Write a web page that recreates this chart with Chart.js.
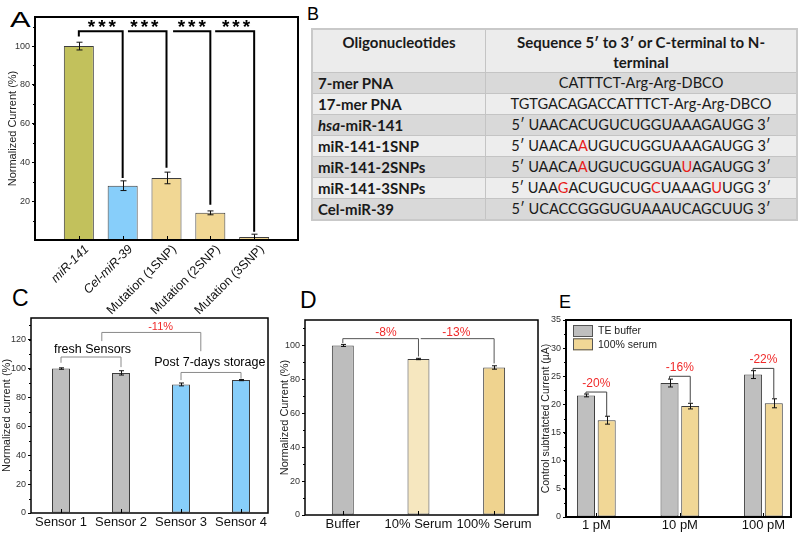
<!DOCTYPE html>
<html>
<head>
<meta charset="utf-8">
<script src="https://cdn.jsdelivr.net/npm/chart.js@4.4.0/dist/chart.umd.min.js"></script>
<style>
body { margin: 0; width: 800px; height: 535px; position: relative; overflow: hidden; background: #fff; font-family: "Liberation Sans", Arial, sans-serif; }
canvas { position: absolute; }
.letter { position: absolute; line-height: 1; color: #000; }
#oligo { position: absolute; left: 311px; top: 28px; width: 487px; border-collapse: collapse; font-family: Lato, "Noto Sans", sans-serif; font-size: 15px; color: #1a1a1a; border: 2px solid #c9c9c9; }
#oligo th { height: 40px; background: #ececec; vertical-align: top; line-height: 20px; padding: 2px 4px 0; border: 1px solid #c4c4c4; }
#oligo td { height: 20px; line-height: 20px; padding: 0 5px; border: 1px solid #c4c4c4; }
#oligo th:first-child, #oligo td:first-child { width: 162px; }
#oligo td:first-child { font-weight: bold; text-align: left; }
#oligo td:last-child { text-align: center; font-size: 14.6px; }
#oligo tr:nth-child(even) td { background: #d9d9d9; }
#oligo tr:nth-child(odd) td { background: #ededed; }
.m { color: #e8201b; }
</style>
</head>
<body>
<div class="letter" style="left:10px;top:9px;font-size:22px;transform:scaleX(1.4);transform-origin:left">A</div>
<div class="letter" style="left:307px;top:5px;font-size:18px">B</div>
<div class="letter" style="left:12px;top:287px;font-size:23px">C</div>
<div class="letter" style="left:300px;top:289px;font-size:23px">D</div>
<div class="letter" style="left:559px;top:293px;font-size:18px">E</div>

<table id="oligo">
  <tr><th>Oligonucleotides</th><th>Sequence 5′ to 3′ or C-terminal to N-<br>terminal</th></tr>
  <tr><td>7-mer PNA</td><td>CATTTCT-Arg-Arg-DBCO</td></tr>
  <tr><td>17-mer PNA</td><td>TGTGACAGACCATTTCT-Arg-Arg-DBCO</td></tr>
  <tr><td><i>hsa</i>-miR-141</td><td>5′ UAACACUGUCUGGUAAAGAUGG 3′</td></tr>
  <tr><td>miR-141-1SNP</td><td>5′ UAACA<span class="m">A</span>UGUCUGGUAAAGAUGG 3′</td></tr>
  <tr><td>miR-141-2SNPs</td><td>5′ UAACA<span class="m">A</span>UGUCUGGUA<span class="m">U</span>AGAUGG 3′</td></tr>
  <tr><td>miR-141-3SNPs</td><td>5′ UAA<span class="m">G</span>ACUGUCUG<span class="m">C</span>UAAAG<span class="m">U</span>UGG 3′</td></tr>
  <tr><td>Cel-miR-39</td><td>5′ UCACCGGGUGUAAAUCAGCUUG 3′</td></tr>
</table>

<canvas id="chartA" width="300" height="315" style="left:0;top:0"></canvas>
<canvas id="chartC" width="272" height="245" style="left:0;top:290px"></canvas>
<canvas id="chartD" width="268" height="245" style="left:272px;top:290px"></canvas>
<canvas id="chartE" width="260" height="245" style="left:540px;top:290px"></canvas>

<script>
// ===== DATA =====
// A: selectivity
const selCategories = ['miR-141', 'Cel-miR-39', 'Mutation (1SNP)', 'Mutation (2SNP)', 'Mutation (3SNP)'];
const selValues = [100, 28, 32, 14, 1.5];
const selErrors = [2, 2.5, 3, 1, 1.5];

// C: storage stability
const stabCategories = ['Sensor 1', 'Sensor 2', 'Sensor 3', 'Sensor 4'];
const stabValues = [100, 97, 89, 92];
const stabErrors = [0.5, 1.5, 1, 0.4];

// D: serum matrix
const serumCategories = ['Buffer', '10% Serum', '100% Serum'];
const serumValues = [100, 92, 87];
const serumErrors = [0.6, 0.4, 1];

// E: concentrations in buffer vs serum
const concCategories = ['1 pM', '10 pM', '100 pM'];
const teValues = [21.6, 23.8, 25.3];
const teErrors = [0.25, 0.7, 0.7];
const serum100Values = [17.2, 19.7, 20.2];
const serum100Errors = [0.7, 0.5, 0.8];

const RED = '#f02a2a';
Chart.defaults.font.family = '"Liberation Sans", Arial, sans-serif';
Chart.defaults.color = '#222';

// ===== DECOR PLUGIN (frame, error bars, brackets, labels) =====
const decorPlugin = {
    id: 'decor',
    afterDatasetsDraw(chart, args, opts) {
        const { ctx, chartArea: a, scales: { x, y } } = chart;
        const px = v => {
            if (!Array.isArray(v)) return x.getPixelForValue(v);
            const p1 = chart.getDatasetMeta(v[0]).data[v[1]].x;
            if (v.length === 2) return p1;
            return (p1 + chart.getDatasetMeta(v[2]).data[v[3]].x) / 2;
        };
        const py = v => y.getPixelForValue(v);
        ctx.save();

        // error bars
        ctx.strokeStyle = '#111';
        ctx.lineWidth = 1;
        chart.data.datasets.forEach((ds, di) => {
            chart.getDatasetMeta(di).data.forEach((bar, i) => {
                const v = ds.data[i].y, e = ds.errors[i];
                const xx = Math.round(bar.x) + 0.5;
                const t = py(v + e), b = py(v - e), c = opts.cap || 3;
                ctx.beginPath();
                ctx.moveTo(xx, t); ctx.lineTo(xx, b);
                ctx.moveTo(xx - c, t); ctx.lineTo(xx + c, t);
                ctx.moveTo(xx - c, b); ctx.lineTo(xx + c, b);
                ctx.stroke();
            });
        });

        // brackets
        (opts.brackets || []).forEach(br => {
            ctx.strokeStyle = br.color || '#000';
            ctx.lineWidth = br.width || 1;
            const x1 = px(br.x1), x2 = px(br.x2), yy = py(br.y);
            ctx.beginPath();
            if (br.y1 != null) { ctx.moveTo(x1, py(br.y1)); ctx.lineTo(x1, yy); }
            else ctx.moveTo(x1, yy);
            ctx.lineTo(x2, yy);
            ctx.lineTo(x2, py(br.y2));
            ctx.stroke();
        });

        // texts
        (opts.texts || []).forEach(t => {
            ctx.fillStyle = t.color || '#000';
            ctx.font = (t.bold ? 'bold ' : '') + t.size + 'px "Liberation Sans", Arial, sans-serif';
            ctx.textAlign = 'center';
            ctx.textBaseline = 'middle';
            ctx.letterSpacing = t.spacing || '0px';
            ctx.fillText(t.text, px(t.x), py(t.y));
            ctx.letterSpacing = '0px';
        });

        // legend (E)
        if (opts.legend) {
            chart.data.datasets.forEach((ds, i) => {
                const lx = a.left + 7, ly = a.top + 5 + i * 13.3;
                ctx.fillStyle = ds.backgroundColor;
                ctx.fillRect(lx, ly, 20, 12);
                ctx.strokeStyle = '#555';
                ctx.lineWidth = 1;
                ctx.strokeRect(lx + 0.5, ly + 0.5, 19, 11);
                ctx.fillStyle = '#222';
                ctx.font = '10.5px "Liberation Sans", Arial, sans-serif';
                ctx.textAlign = 'left';
                ctx.textBaseline = 'middle';
                ctx.fillText(ds.label, lx + 25, ly + 6.5);
            });
        }

        // inward x ticks and minor y ticks
        ctx.strokeStyle = '#000';
        ctx.lineWidth = 1;
        ctx.beginPath();
        x.ticks.forEach(t => {
            const xx = Math.round(x.getPixelForValue(t.value)) + 0.5;
            ctx.moveTo(xx, a.bottom); ctx.lineTo(xx, a.bottom - 4);
        });
        for (let v = opts.minor; v < y.max; v += opts.minor) {
            const yy = Math.round(py(v)) + 0.5;
            ctx.moveTo(a.left, yy); ctx.lineTo(a.left - 2, yy);
        }
        ctx.stroke();

        // frame
        ctx.strokeStyle = '#000';
        ctx.lineWidth = opts.frame || 1.5;
        ctx.strokeRect(a.left, a.top, a.width, a.height);
        ctx.restore();
    }
};

function buildChart(id, cfg) {
    return new Chart(document.getElementById(id), {
        type: 'bar',
        data: {
            datasets: cfg.datasets.map(d => ({
                label: d.label,
                data: d.values.map((v, i) => ({ x: i + 1, y: v })),
                errors: d.errors,
                backgroundColor: d.color,
                borderColor: '#3d3d3d',
                borderWidth: 1,
                borderSkipped: false,
                categoryPercentage: cfg.catPct,
                barPercentage: cfg.barPct
            }))
        },
        options: {
            responsive: false,
            animation: false,
            layout: { padding: cfg.pad },
            plugins: { legend: { display: false }, tooltip: { enabled: false }, decor: cfg.decor },
            scales: {
                x: {
                    type: 'linear', min: cfg.xMin, max: cfg.xMax, offset: false,
                    afterBuildTicks: s => { s.ticks = cfg.cats.map((c, i) => ({ value: i + 1 })); },
                    afterFit: s => { s.height = cfg.xH; },
                    grid: { display: true, drawOnChartArea: false, drawTicks: false, offset: false },
                    border: { display: false },
                    ticks: {
                        autoSkip: false, maxRotation: cfg.rot, minRotation: cfg.rot, padding: cfg.xPad,
                        labelOffset: cfg.xShift || 0,
                        color: '#111', font: cfg.xFont,
                        callback: v => cfg.cats[v - 1]
                    }
                },
                y: {
                    min: 0, max: cfg.yMax,
                    afterBuildTicks: s => {
                        s.ticks = s.ticks.filter(t => t.value % cfg.yStep === 0 && t.value >= cfg.yTickMin && t.value <= cfg.yTickMax);
                    },
                    afterFit: s => { s.width = cfg.yW; },
                    grid: { drawOnChartArea: false, drawTicks: true, tickLength: 3, color: '#000', tickColor: '#000' },
                    border: { display: false },
                    ticks: { stepSize: cfg.yStep, padding: 2, color: '#333', font: { size: 9 } },
                    title: { display: true, text: cfg.yTitle, color: '#222', font: { size: cfg.titleSize }, padding: { top: cfg.titlePad, bottom: 0 } }
                }
            }
        },
        plugins: [decorPlugin]
    });
}

// ===== PANEL A =====
buildChart('chartA', {
    cats: selCategories,
    datasets: [{ label: 'Normalized Current', values: selValues, errors: selErrors,
        color: ['#c2c15c', '#87cefa', '#f1d794', '#f1d794', '#f1d794'] }],
    xMin: 0, xMax: 6, yMax: 115, yStep: 20, yTickMin: 20, yTickMax: 100,
    yW: 35, xH: 75, pad: { top: 17, right: 2 }, xPad: 2, xShift: 8,
    catPct: 1, barPct: 0.685, rot: 45,
    xFont: c => ({ size: 12.5, style: c.index < 2 ? 'italic' : 'normal' }),
    yTitle: 'Normalized Current (%)', titleSize: 11, titlePad: 6.5,
    decor: {
        frame: 2, cap: 3, minor: 10,
        brackets: [
            { x1: 1, x2: 2, y: 107.6, y1: 105, y2: 32, width: 2 },
            { x1: 2.12, x2: 3, y: 107.6, y1: null, y2: 37.3, width: 2 },
            { x1: 3.15, x2: 4, y: 107.6, y1: null, y2: 18.2, width: 2 },
            { x1: 4.11, x2: 5, y: 107.6, y1: null, y2: 4.3, width: 2 }
        ],
        texts: [
            { x: 1.56, y: 109.2, text: '***', size: 19, bold: true, spacing: '3px' },
            { x: 2.53, y: 109.2, text: '***', size: 19, bold: true, spacing: '3px' },
            { x: 3.61, y: 109.2, text: '***', size: 19, bold: true, spacing: '3px' },
            { x: 4.62, y: 109.2, text: '***', size: 19, bold: true, spacing: '3px' }
        ]
    }
});

// ===== PANEL C =====
buildChart('chartC', {
    cats: stabCategories,
    datasets: [{ label: 'Normalized current', values: stabValues, errors: stabErrors,
        color: ['#bebebe', '#bebebe', '#87cefa', '#87cefa'] }],
    xMin: 0.5, xMax: 4.45, yMax: 135, yStep: 20, yTickMin: 0, yTickMax: 120,
    yW: 31, xH: 22, pad: { top: 28, right: 4 }, xPad: 2,
    catPct: 1, barPct: 0.3, rot: 0,
    xFont: { size: 13 },
    yTitle: 'Normalized current (%)', titleSize: 11, titlePad: 0,
    decor: {
        frame: 1.5, cap: 2.5, minor: 10,
        brackets: [
            { x1: 1, x2: 2, y: 108, y1: 104, y2: 101, color: '#8a8a8a' },
            { x1: 1.68, x2: 3.33, y: 125, y1: 119, y2: 112, color: '#8a8a8a' },
            { x1: 3, x2: 4, y: 97.3, y1: 92, y2: 93, color: '#8a8a8a' }
        ],
        texts: [
            { x: 1.525, y: 113, text: 'fresh Sensors', size: 12.5 },
            { x: 3.48, y: 104.5, text: 'Post 7-days storage', size: 12.5 },
            { x: 2.66, y: 129, text: '-11%', size: 11, color: RED }
        ]
    }
});

// ===== PANEL D =====
buildChart('chartD', {
    cats: serumCategories,
    datasets: [{ label: 'Normalized Current', values: serumValues, errors: serumErrors,
        color: ['#bdbdbd', '#f6e7bf', '#efd38f'] }],
    xMin: 0.5, xMax: 3.58, yMax: 115, yStep: 20, yTickMin: 0, yTickMax: 100,
    yW: 33, xH: 20, pad: { top: 30, right: 2 }, xPad: 2,
    catPct: 1, barPct: 0.29, rot: 0,
    xFont: { size: 13 },
    yTitle: 'Normalized Current (%)', titleSize: 11, titlePad: 6.4,
    decor: {
        frame: 1.5, cap: 2.5, minor: 10,
        brackets: [
            { x1: 1, x2: 2, y: 104, y1: 101.4, y2: 93.5, color: '#555' },
            { x1: 2.03, x2: 3, y: 104, y1: null, y2: 89.4, color: '#555' }
        ],
        texts: [
            { x: 1.57, y: 107.6, text: '-8%', size: 12, color: RED },
            { x: 2.5, y: 107.6, text: '-13%', size: 12, color: RED }
        ]
    }
});

// ===== PANEL E =====
buildChart('chartE', {
    cats: concCategories,
    datasets: [
        { label: 'TE buffer', values: teValues, errors: teErrors, color: '#bfbfbf' },
        { label: '100% serum', values: serum100Values, errors: serum100Errors, color: '#f1d796' }
    ],
    xMin: 0.637, xMax: 3.33, yMax: 35, yStep: 5, yTickMin: 0, yTickMax: 35,
    yW: 26, xH: 18, pad: { top: 30, right: 9 }, xPad: 1,
    catPct: 0.496, barPct: 0.87, rot: 0,
    xFont: { size: 13 },
    yTitle: 'Control subtratcted Current (µA)', titleSize: 10.5, titlePad: 0,
    decor: {
        frame: 2, cap: 2.5, minor: 2.5, legend: true,
        brackets: [
            { x1: [0, 0], x2: [1, 0], y: 22.2, y1: 21.8, y2: 17.8, color: '#444' },
            { x1: [0, 1], x2: [1, 1], y: 25.0, y1: 24.5, y2: 20.3, color: '#444' },
            { x1: [0, 2], x2: [1, 2], y: 26.4, y1: 26.0, y2: 21.1, color: '#444' }
        ],
        texts: [
            { x: [0, 0, 1, 0], y: 23.6, text: '-20%', size: 12, color: RED },
            { x: [0, 1, 1, 1], y: 26.5, text: '-16%', size: 12, color: RED },
            { x: [0, 2, 1, 2], y: 28.0, text: '-22%', size: 12, color: RED }
        ]
    }
});
</script>
</body>
</html>
